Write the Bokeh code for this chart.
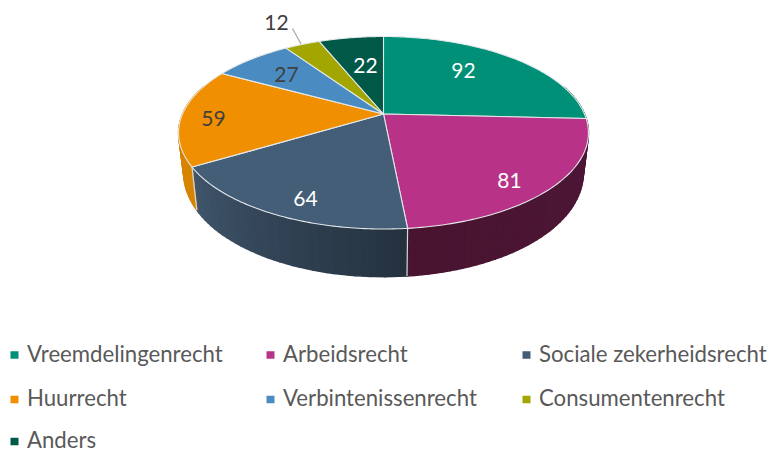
import numpy as np
from bokeh.plotting import figure
from bokeh.models import ColumnDataSource
from bokeh.core.properties import value
from bokeh.embed import file_html
from bokeh.resources import INLINE

categories = ["Vreemdelingenrecht", "Arbeidsrecht", "Sociale zekerheidsrecht",
              "Huurrecht", "Verbintenissenrecht", "Consumentenrecht", "Anders"]
values = [92, 81, 64, 59, 27, 12, 22]
top_colors = ["#009077", "#b83388", "#445e78", "#f09000", "#4a8cc2", "#a3a600", "#005846"]
wall_start = ["#00614f", "#4f173a", "#40566c", "#d68400", "#33628a", "#757700", "#003d30"]
wall_end = ["#00614f", "#48142f", "#24313f", "#d68400", "#33628a", "#757700", "#003d30"]
label_colors = ["#ffffff", "#ffffff", "#ffffff", "#404040", "#404040", "#404040", "#ffffff"]
label_x = [463, 509, 305, 213, 286, 276, 365]
label_y = [70, 180, 198, 118, 74, 22, 65]
legend_x = [10, 266, 522, 10, 266, 522, 10]
legend_y = [354.5, 354.5, 354.5, 399, 399, 399, 441]
legend_text_y = [352.5, 352.5, 352.5, 397, 397, 397, 438.5]

CX, CY = 383.0, 113.5
A, B, K = 201.0, 92.6, 0.195
S, D0, D1 = 0.975, 37.8, 12.7
FONT = value("Lato")


def top_pt(t):
    u, v = np.sin(t), np.cos(t)
    w = 1 + K * v
    return CX + A * u / w, CY - B * v / w


def bottom_pt(t):
    x, y = top_pt(t)
    return CX + S * (x - CX), CY + S * (y - CY) + D0 - D1 * np.cos(t)


def hex_rgb(c):
    return np.array([int(c[i:i + 2], 16) for i in (1, 3, 5)], dtype=float)


def mix(a, b, f):
    r = hex_rgb(a) * (1 - f) + hex_rgb(b) * f
    return "#%02x%02x%02x" % tuple(int(round(q)) for q in r)


total = sum(values)
edges = np.concatenate([[0], np.cumsum(values)]) / total * 2 * np.pi

p = figure(width=769, height=452, x_range=(0, 769), y_range=(452, 0),
           output_backend="svg", toolbar_location=None, min_border=0,
           outline_line_color=None, background_fill_color="white",
           margin=(0, 0, 0, 0))
p.axis.visible = False
p.grid.visible = False

# side walls: narrow strips so the shading can run along the arc
wx, wy, wc = [], [], []
for i in range(len(values)):
    a0, a1 = edges[i], edges[i + 1]
    n = max(4, int((a1 - a0) / 0.03))
    ts = np.linspace(a0, a1, n + 1)
    for j in range(n):
        tm = 0.5 * (ts[j] + ts[j + 1])
        if np.cos(tm) > 0.3:
            continue
        x0, y0 = top_pt(ts[j])
        x1, y1 = top_pt(ts[j + 1])
        x2, y2 = bottom_pt(ts[j + 1])
        x3, y3 = bottom_pt(ts[j])
        wx.append([x0, x1, x2, x3])
        wy.append([y0, y1, y2, y3])
        # arc runs clockwise, so the slate wall runs right to left
        f = (j + 0.5) / n
        wc.append(mix(wall_start[i], wall_end[i], 1 - f if i == 2 else f))
p.patches(wx, wy, fill_color=wc, line_color=wc, line_width=1.5, line_join="round")

# light seams where two slices meet on the front wall
sx, sy = [], []
for e in edges[1:-1]:
    if np.cos(e) < -0.3:
        x0, y0 = top_pt(e)
        x1, y1 = bottom_pt(e)
        sx.append([x0, x1])
        sy.append([y0, y1])
p.multi_line(sx, sy, line_color="#d4d8dc", line_width=1.2)

# top faces
for i in range(len(values)):
    ts = np.linspace(edges[i], edges[i + 1], 80)
    xs, ys = top_pt(ts)
    p.patch(np.r_[CX, xs], np.r_[CY, ys], fill_color=top_colors[i],
            line_color="#e4e8ea", line_width=1.1, line_join="round")

# leader for the small outer label
p.line([292, 300.5], [28, 43.5], line_color="#a6a6a6", line_width=1.2)

src = ColumnDataSource(dict(x=label_x, y=label_y, t=[str(v) for v in values], c=label_colors))
p.text("x", "y", text="t", source=src, text_color="c", text_font=FONT,
       text_font_size="21px", text_align="center", text_baseline="middle")

lsrc = ColumnDataSource(dict(x=legend_x, y=legend_y, ty=legend_text_y, t=categories, c=top_colors,
                             tx=[v + 16.5 for v in legend_x], sx=[v + 4 for v in legend_x]))
p.rect("sx", "y", width=8, height=7.5, source=lsrc, fill_color="c", line_color=None)
p.text("tx", "ty", text="t", source=lsrc, text_color="#595959", text_font=FONT,
       text_font_size="22.2px", text_align="left", text_baseline="middle")

open("out.html", "w").write(file_html(p, INLINE))
